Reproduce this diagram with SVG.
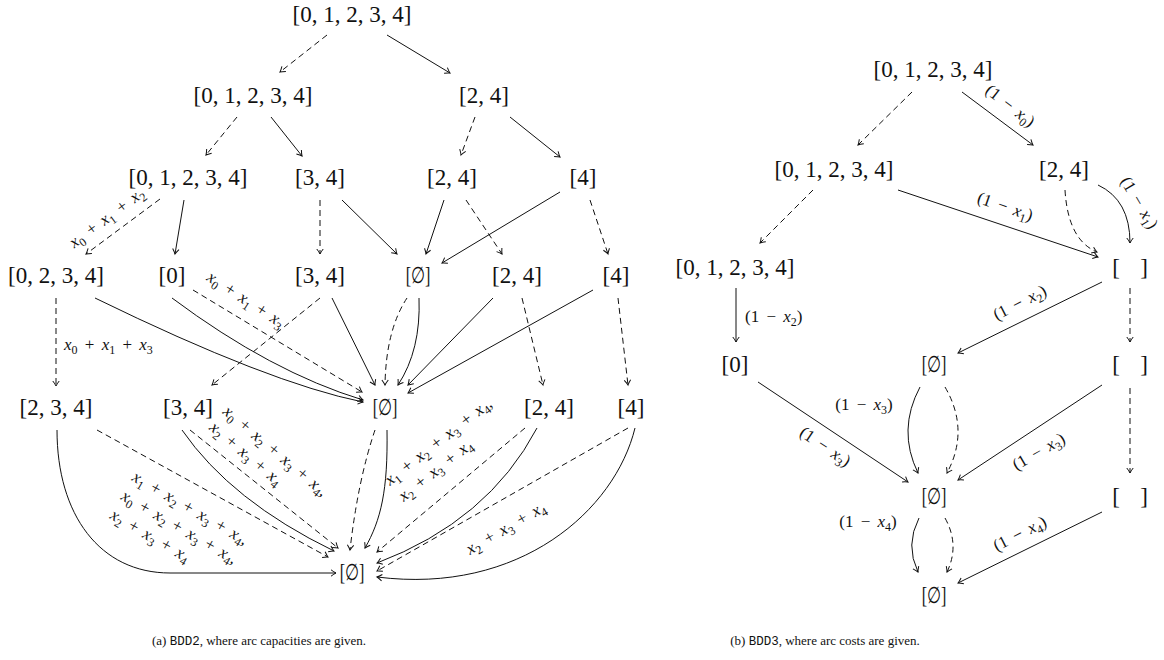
<svg xmlns="http://www.w3.org/2000/svg" width="1164" height="660" viewBox="0 0 1164 660">
<style>
.n{font-family:"Liberation Serif","DejaVu Serif",serif;font-size:23px;text-anchor:middle;fill:#111}
.l{font-family:"Liberation Serif","DejaVu Serif",serif;font-size:17px;word-spacing:3px;fill:#111}
.v{font-style:italic}
.s{font-size:12px}
.c{font-family:"Liberation Serif",serif;font-size:13px;text-anchor:middle;fill:#111}
.tt{font-family:"Liberation Mono",monospace;font-size:12.5px}
.e{fill:none;stroke:#111;stroke-width:1;marker-end:url(#ah)}
.d{stroke-dasharray:6 4}
</style>
<defs>
<marker id="ah" markerUnits="userSpaceOnUse" markerWidth="12" markerHeight="12" refX="0" refY="0" orient="auto" viewBox="-6 -6 12 12" overflow="visible">
<path d="M-5,-3.2 Q-1.8,-0.8 0,0 Q-1.8,0.8 -5,3.2" fill="none" stroke="#111" stroke-width="1" stroke-dasharray="none"/>
</marker>
</defs>
<rect width="1164" height="660" fill="#fff"/>

<g id="connectors">
<!-- left diagram -->
<path class="e d" d="M327,35 L280,72"/>
<path class="e" d="M387,35 L450,73"/>
<path class="e d" d="M237,117 L206,155"/>
<path class="e" d="M271,117 L302,156"/>
<path class="e d" d="M475,117 L461,155"/>
<path class="e" d="M510,117 L560,157"/>
<path class="e d" d="M160,199 L86,254"/>
<path class="e" d="M184,200 L175,254"/>
<path class="e d" d="M320,200 L320,254"/>
<path class="e" d="M342,200 L397,254"/>
<path class="e" d="M444,200 L426,254"/>
<path class="e d" d="M466,200 L502,254"/>
<path class="e" d="M560,192 L442,263"/>
<path class="e d" d="M590,200 L608,254"/>
<path class="e d" d="M56,298 L56,386"/>
<path class="e" d="M95,298 Q269,383 363,402"/>
<path class="e" d="M172,298 Q271,372 363,400"/>
<path class="e d" d="M193,290 L362,392"/>
<path class="e d" d="M320,298 L212,385"/>
<path class="e" d="M332,298 L375,385"/>
<path class="e d" d="M407,298 Q386,330 385,385"/>
<path class="e" d="M419,298 Q421,350 398,385"/>
<path class="e" d="M493,298 L408,385"/>
<path class="e" d="M593,290 L408,393"/>
<path class="e d" d="M522,298 L543,385"/>
<path class="e d" d="M618,298 L628,385"/>
<path class="e" d="M57,430 C57,515 100,573 170,573 L336,573"/>
<path class="e d" d="M97,430 L328,557"/>
<path class="e" d="M182,430 Q231,501 334,551"/>
<path class="e d" d="M190,430 L338,548"/>
<path class="e d" d="M375,430 Q358,480 350,550"/>
<path class="e" d="M387,430 C388,490 381,520 365,548"/>
<path class="e d" d="M525,428 L377,552"/>
<path class="e" d="M537,428 Q488,521 377,563"/>
<path class="e d" d="M628,428 L377,571"/>
<path class="e" d="M635,428 C615,510 520,595 377,577"/>
<!-- right diagram -->
<path class="e d" d="M912,92 L858,145"/>
<path class="e" d="M962,92 L1033,145"/>
<path class="e d" d="M813,190 L760,243"/>
<path class="e" d="M898,190 L1098,257"/>
<path class="e d" d="M1065,190 Q1068,240 1097,252"/>
<path class="e" d="M1098,185 Q1130,200 1130,243"/>
<path class="e" d="M736,288 L736,342"/>
<path class="e" d="M1102,282 L958,353"/>
<path class="e d" d="M1130,288 L1130,342"/>
<path class="e" d="M758,382 L908,482"/>
<path class="e" d="M920,387 Q897,430 918,473"/>
<path class="e d" d="M945,387 Q970,430 947,473"/>
<path class="e" d="M1102,385 L958,480"/>
<path class="e d" d="M1130,388 L1130,473"/>
<path class="e" d="M919,518 Q905,545 918,572"/>
<path class="e d" d="M945,518 Q960,545 947,572"/>
<path class="e" d="M1102,512 L958,583"/>

<!-- edge labels left -->
<text class="l" text-anchor="middle" transform="translate(110,222) rotate(-36.6)"><tspan class="v">x</tspan><tspan class="s" dy="4">0</tspan><tspan dy="-4"> + </tspan><tspan class="v">x</tspan><tspan class="s" dy="4">1</tspan><tspan dy="-4"> + </tspan><tspan class="v">x</tspan><tspan class="s" dy="4">2</tspan></text>
<text class="l" x="64" y="350"><tspan class="v">x</tspan><tspan class="s" dy="4">0</tspan><tspan dy="-4"> + </tspan><tspan class="v">x</tspan><tspan class="s" dy="4">1</tspan><tspan dy="-4"> + </tspan><tspan class="v">x</tspan><tspan class="s" dy="4">3</tspan></text>
<text class="l" text-anchor="middle" transform="translate(243,304) rotate(33)"><tspan class="v">x</tspan><tspan class="s" dy="4">0</tspan><tspan dy="-4"> + </tspan><tspan class="v">x</tspan><tspan class="s" dy="4">1</tspan><tspan dy="-4"> + </tspan><tspan class="v">x</tspan><tspan class="s" dy="4">3</tspan></text>
<g transform="translate(131,480) rotate(30)">
<text class="l" x="0" y="0"><tspan class="v">x</tspan><tspan class="s" dy="4">1</tspan><tspan dy="-4"> + </tspan><tspan class="v">x</tspan><tspan class="s" dy="4">2</tspan><tspan dy="-4"> + </tspan><tspan class="v">x</tspan><tspan class="s" dy="4">3</tspan><tspan dy="-4"> + </tspan><tspan class="v">x</tspan><tspan class="s" dy="4">4</tspan><tspan dy="-4">,</tspan></text>
<text class="l" x="0" y="22"><tspan class="v">x</tspan><tspan class="s" dy="4">0</tspan><tspan dy="-4"> + </tspan><tspan class="v">x</tspan><tspan class="s" dy="4">2</tspan><tspan dy="-4"> + </tspan><tspan class="v">x</tspan><tspan class="s" dy="4">3</tspan><tspan dy="-4"> + </tspan><tspan class="v">x</tspan><tspan class="s" dy="4">4</tspan><tspan dy="-4">,</tspan></text>
<text class="l" x="0" y="44"><tspan class="v">x</tspan><tspan class="s" dy="4">2</tspan><tspan dy="-4"> + </tspan><tspan class="v">x</tspan><tspan class="s" dy="4">3</tspan><tspan dy="-4"> + </tspan><tspan class="v">x</tspan><tspan class="s" dy="4">4</tspan></text>
</g>
<g transform="translate(222,413) rotate(40)">
<text class="l" x="0" y="0"><tspan class="v">x</tspan><tspan class="s" dy="4">0</tspan><tspan dy="-4"> + </tspan><tspan class="v">x</tspan><tspan class="s" dy="4">2</tspan><tspan dy="-4"> + </tspan><tspan class="v">x</tspan><tspan class="s" dy="4">3</tspan><tspan dy="-4"> + </tspan><tspan class="v">x</tspan><tspan class="s" dy="4">4</tspan><tspan dy="-4">,</tspan></text>
<text class="l" x="0" y="21"><tspan class="v">x</tspan><tspan class="s" dy="4">2</tspan><tspan dy="-4"> + </tspan><tspan class="v">x</tspan><tspan class="s" dy="4">3</tspan><tspan dy="-4"> + </tspan><tspan class="v">x</tspan><tspan class="s" dy="4">4</tspan></text>
</g>
<g transform="translate(390,486) rotate(-38)">
<text class="l" x="0" y="0"><tspan class="v">x</tspan><tspan class="s" dy="4">1</tspan><tspan dy="-4"> + </tspan><tspan class="v">x</tspan><tspan class="s" dy="4">2</tspan><tspan dy="-4"> + </tspan><tspan class="v">x</tspan><tspan class="s" dy="4">3</tspan><tspan dy="-4"> + </tspan><tspan class="v">x</tspan><tspan class="s" dy="4">4</tspan><tspan dy="-4">,</tspan></text>
<text class="l" x="1" y="21"><tspan class="v">x</tspan><tspan class="s" dy="4">2</tspan><tspan dy="-4"> + </tspan><tspan class="v">x</tspan><tspan class="s" dy="4">3</tspan><tspan dy="-4"> + </tspan><tspan class="v">x</tspan><tspan class="s" dy="4">4</tspan></text>
</g>
<text class="l" transform="translate(470,555) rotate(-30)"><tspan class="v">x</tspan><tspan class="s" dy="4">2</tspan><tspan dy="-4"> + </tspan><tspan class="v">x</tspan><tspan class="s" dy="4">3</tspan><tspan dy="-4"> + </tspan><tspan class="v">x</tspan><tspan class="s" dy="4">4</tspan></text>

<!-- edge labels right -->
<text class="l" text-anchor="middle" transform="translate(1010,106) rotate(38)" y="5">(1 − <tspan class="v">x</tspan><tspan class="s" dy="4">0</tspan><tspan dy="-4">)</tspan></text>
<text class="l" text-anchor="middle" transform="translate(1005,207) rotate(19)" y="5">(1 − <tspan class="v">x</tspan><tspan class="s" dy="4">1</tspan><tspan dy="-4">)</tspan></text>
<text class="l" text-anchor="middle" transform="translate(1139,203) rotate(59)" y="5">(1 − <tspan class="v">x</tspan><tspan class="s" dy="4">1</tspan><tspan dy="-4">)</tspan></text>
<text class="l" x="745" y="322">(1 − <tspan class="v">x</tspan><tspan class="s" dy="4">2</tspan><tspan dy="-4">)</tspan></text>
<text class="l" text-anchor="middle" transform="translate(1020,303) rotate(-27)" y="5">(1 − <tspan class="v">x</tspan><tspan class="s" dy="4">2</tspan><tspan dy="-4">)</tspan></text>
<text class="l" text-anchor="middle" transform="translate(825,447) rotate(34)" y="5">(1 − <tspan class="v">x</tspan><tspan class="s" dy="4">3</tspan><tspan dy="-4">)</tspan></text>
<text class="l" text-anchor="middle" x="864" y="410">(1 − <tspan class="v">x</tspan><tspan class="s" dy="4">3</tspan><tspan dy="-4">)</tspan></text>
<text class="l" text-anchor="middle" transform="translate(1039,452) rotate(-30)" y="5">(1 − <tspan class="v">x</tspan><tspan class="s" dy="4">3</tspan><tspan dy="-4">)</tspan></text>
<text class="l" text-anchor="middle" x="868" y="527">(1 − <tspan class="v">x</tspan><tspan class="s" dy="4">4</tspan><tspan dy="-4">)</tspan></text>
<text class="l" text-anchor="middle" transform="translate(1020,534) rotate(-27)" y="5">(1 − <tspan class="v">x</tspan><tspan class="s" dy="4">4</tspan><tspan dy="-4">)</tspan></text>
</g>

<!-- left diagram nodes -->
<g id="a-r0"><text class="n" x="352" y="22">[0, 1, 2, 3, 4]</text></g>
<g id="a-r1a"><text class="n" x="253" y="103">[0, 1, 2, 3, 4]</text></g>
<g id="a-r1b"><text class="n" x="484" y="103">[2, 4]</text></g>
<g id="a-r2a"><text class="n" x="188" y="185">[0, 1, 2, 3, 4]</text></g>
<g id="a-r2b"><text class="n" x="320" y="185">[3, 4]</text></g>
<g id="a-r2c"><text class="n" x="452" y="185">[2, 4]</text></g>
<g id="a-r2d"><text class="n" x="583" y="185">[4]</text></g>
<g id="a-r3a"><text class="n" x="56" y="283">[0, 2, 3, 4]</text></g>
<g id="a-r3b"><text class="n" x="172" y="283">[0]</text></g>
<g id="a-r3c"><text class="n" x="320" y="283">[3, 4]</text></g>
<g id="a-r3d"><text class="n" transform="translate(418,283) scale(0.7,1)">[∅]</text></g>
<g id="a-r3e"><text class="n" x="517" y="283">[2, 4]</text></g>
<g id="a-r3f"><text class="n" x="616" y="283">[4]</text></g>
<g id="a-r4a"><text class="n" x="56" y="415">[2, 3, 4]</text></g>
<g id="a-r4b"><text class="n" x="188" y="415">[3, 4]</text></g>
<g id="a-r4c"><text class="n" transform="translate(385,415) scale(0.7,1)">[∅]</text></g>
<g id="a-r4d"><text class="n" x="549" y="415">[2, 4]</text></g>
<g id="a-r4e"><text class="n" x="631" y="415">[4]</text></g>
<g id="a-r5"><text class="n" transform="translate(352,580) scale(0.7,1)">[∅]</text></g>

<!-- right diagram nodes -->
<g id="b-r0"><text class="n" x="933" y="77">[0, 1, 2, 3, 4]</text></g>
<g id="b-r1a"><text class="n" x="834" y="177">[0, 1, 2, 3, 4]</text></g>
<g id="b-r1b"><text class="n" x="1064" y="177">[2, 4]</text></g>
<g id="b-r2a"><text class="n" x="735" y="275">[0, 1, 2, 3, 4]</text></g>
<g id="b-r2b"><text class="n" x="1116" y="275">[</text><text class="n" x="1144" y="275">]</text></g>
<g id="b-r3a"><text class="n" x="735" y="372">[0]</text></g>
<g id="b-r3b"><text class="n" transform="translate(934,372) scale(0.7,1)">[∅]</text></g>
<g id="b-r3c"><text class="n" x="1116" y="372">[</text><text class="n" x="1144" y="372">]</text></g>
<g id="b-r4a"><text class="n" transform="translate(934,504) scale(0.7,1)">[∅]</text></g>
<g id="b-r4b"><text class="n" x="1116" y="504">[</text><text class="n" x="1144" y="504">]</text></g>
<g id="b-r5"><text class="n" transform="translate(934,603) scale(0.7,1)">[∅]</text></g>

<g id="captions">
<text class="c" x="259" y="645">(a) <tspan class="tt">BDD2</tspan>, where arc capacities are given.</text>
<text class="c" x="825" y="645">(b) <tspan class="tt">BDD3</tspan>, where arc costs are given.</text>
</g>
</svg>
